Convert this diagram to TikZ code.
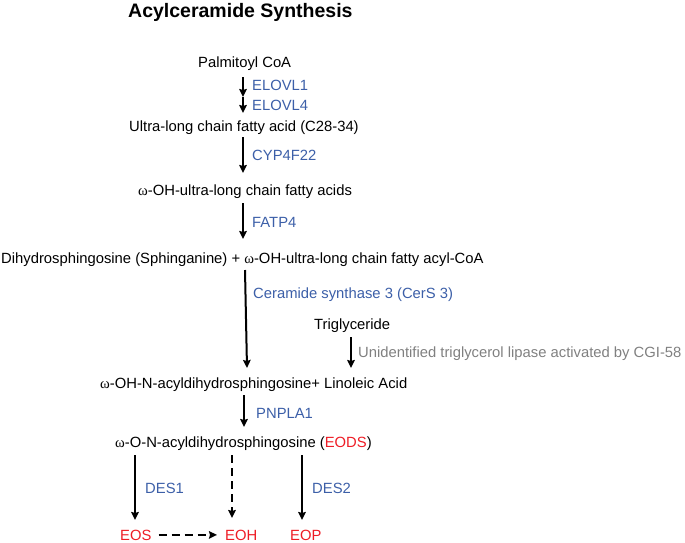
\documentclass[tikz,border=0pt]{standalone}
\usepackage{fontspec}
\setmainfont{Liberation Sans}
\newfontfamily\omfont{Liberation Serif}
\usetikzlibrary{positioning,arrows.meta}

\definecolor{enzblue}{HTML}{3C5FA8}
\definecolor{acred}{HTML}{EE1C25}
\definecolor{lipgray}{HTML}{808080}
\newcommand{\om}{{\omfont ω}}

\tikzset{
  txt/.style={anchor=base west, inner sep=0pt, font=\fontsize{14.8}{17}\selectfont},
  enz/.style={txt, text=enzblue},
  arr/.style={line width=2pt, -{Stealth[length=8pt,width=7.5pt,inset=1pt]}},
  darr/.style={arr, dash pattern=on 8pt off 5pt}
}

\begin{document}
\begin{tikzpicture}[x=1pt,y=-1pt]
\useasboundingbox (0,0) rectangle (685,542);

% title
\node[txt, font=\bfseries\fontsize{19.5}{22}\selectfont] (title) at (128,17) {Acylceramide Synthesis};

% compounds
\node[txt] (palm) at (198,67) {Palmitoyl CoA};
\node[txt] (ulc) at (129,131) {Ultra-long chain fatty acid (C28-34)};
\node[txt] (ohulc) at (138,195) {\om-OH-ultra-long chain fatty acids};
\node[txt] (dhs) at (1,263) {Dihydrosphingosine (Sphinganine) + \om-OH-ultra-long chain fatty acyl-CoA};
\node[txt] (tg) at (314,329) {Triglyceride};
\node[txt] (ohn) at (100,388) {\om-OH-N-acyldihydrosphingosine+ Linoleic Acid};
\node[txt] (eods) at (115,447) {\om-O-N-acyldihydrosphingosine (\textcolor{acred}{EODS})};
\node[txt, text=acred] (eos) at (120,540) {EOS};
\node[txt, text=acred] (eoh) at (225,540) {EOH};
\node[txt, text=acred] (eop) at (290,540) {EOP};

% enzymes
\node[enz] (elovla) at (252,90) {ELOVL1};
\node[enz] (elovlb) at (252,110) {ELOVL4};
\node[enz] (cyp) at (252,160) {CYP4F22};
\node[enz] (fatp) at (252,227) {FATP4};
\node[enz] (cers) at (253,298) {Ceramide synthase 3 (CerS 3)};
\node[enz, text=lipgray] (lip) at (358,357) {Unidentified triglycerol lipase activated by CGI-58};
\node[enz] (pnpla) at (256,418) {PNPLA1};
\node[enz] (desa) at (145,493) {DES1};
\node[enz] (desb) at (312,493) {DES2};

% arrow ends
\coordinate (p1) at (243,77);
\coordinate (p2) at (243,97);
\coordinate (p3) at (243,113);
\coordinate (p4) at (243,137);
\coordinate (p5) at (243,173);
\coordinate (p6) at (243,203);
\coordinate (p7) at (243,239);
\coordinate (p8) at (245,270);
\coordinate (p9) at (247,368);
\coordinate (t1) at (351,337);
\coordinate (t2) at (351,368);
\coordinate (q1) at (244,395);
\coordinate (q2) at (244,427);
\coordinate (d1) at (135,455);
\coordinate (d2) at (135,520);
\coordinate (h1) at (232,455);
\coordinate (h2) at (232,518);
\coordinate (e1) at (302,455);
\coordinate (e2) at (302,520);

\draw[arr] (p1) -- (p2);
\draw[arr] (p2) -- (p3);
\draw[arr] (p4) -- (p5);
\draw[arr] (p6) -- (p7);
\draw[arr] (p8) -- (p9);
\draw[arr] (t1) -- (t2);
\draw[arr] (q1) -- (q2);
\draw[arr] (d1) -- (d2);
\draw[darr] (h1) -- (h2);
\draw[arr] (e1) -- (e2);
\draw[darr, shorten <=7pt, shorten >=8pt] (eos.east) -- (eoh.west);
\end{tikzpicture}
\end{document}
